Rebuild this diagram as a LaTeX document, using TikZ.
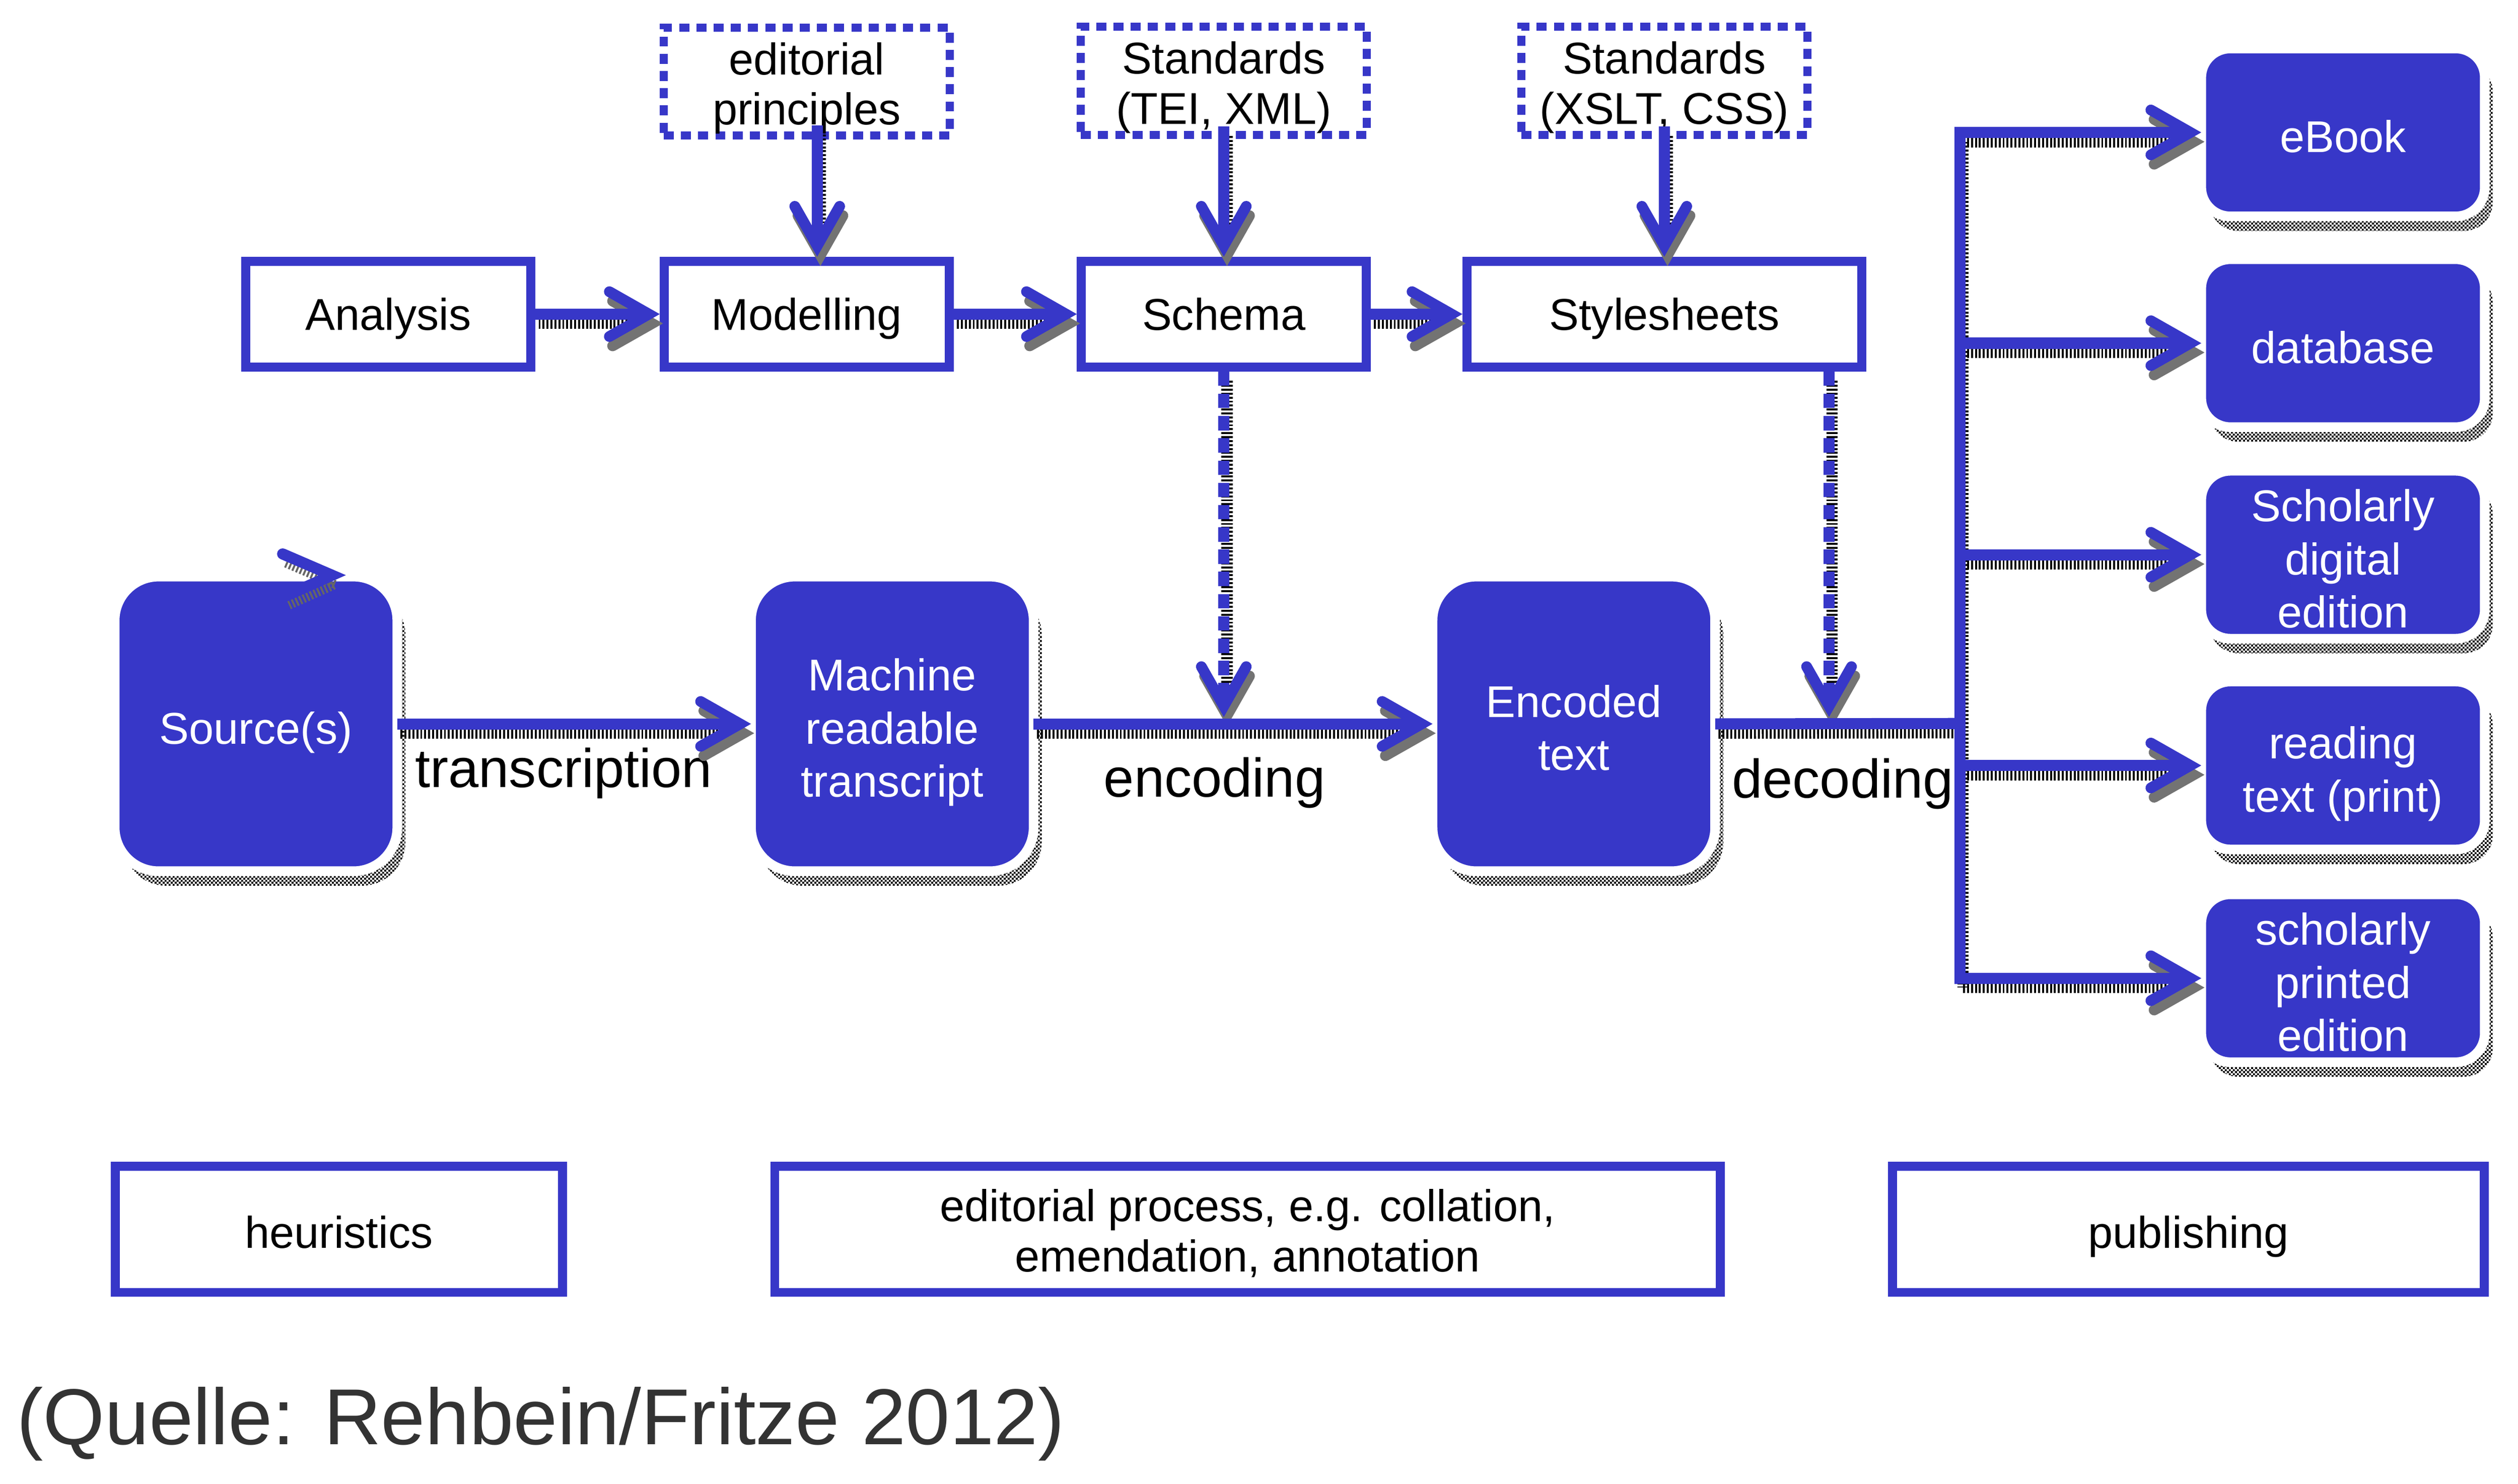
\documentclass[tikz,border=0pt]{standalone}
\usepackage{fontspec}
\setmainfont{Liberation Sans}
\usetikzlibrary{arrows.meta,patterns}
\pgfdeclarelayer{bg}
\pgfsetlayers{bg,main}
\pgfdeclarepatternformonly{checker}{\pgfpointorigin}{\pgfpoint{1.1pt}{1.1pt}}{\pgfpoint{1.1pt}{1.1pt}}{%
  \pgfpathrectangle{\pgfpointorigin}{\pgfpoint{0.55pt}{0.55pt}}%
  \pgfpathrectangle{\pgfpoint{0.55pt}{0.55pt}}{\pgfpoint{0.55pt}{0.55pt}}%
  \pgfusepath{fill}}
\definecolor{myblue}{RGB}{55,55,200}
\newcommand\stB{\rule{0pt}{14.1pt}}
\newcommand\stD{\rule{0pt}{13.1pt}}
\newcommand\stE{\rule{0pt}{12.6pt}}
\begin{document}
\begin{tikzpicture}[x=0.45pt,y=-0.45pt,
  struts/.style={execute at begin node={\rule{0pt}{#1}}, execute at end node={\rule[-3pt]{0pt}{3pt}}},
  txt/.style={font=\fontsize{12.4}{14}\selectfont},
  topbox/.style={txt, struts=11.9pt, draw=myblue, line width=2.5pt, fill=white, minimum width=79.4pt, minimum height=29.5pt, inner sep=0pt},
  dotbox/.style={txt, struts=13.1pt, draw=myblue, line width=2.25pt, dash pattern=on 2.8pt off 2pt, minimum width=79.7pt, minimum height=28.8pt, inner sep=0pt, align=center},
  bluebox/.style={font=\fontsize{12.4}{14.8}\selectfont, struts=14.1pt, fill=myblue, draw=white, line width=2.7pt, text=white, align=center, inner sep=0pt, outer sep=0pt},
  bluebig/.style={bluebox, minimum width=78.75pt, minimum height=82.1pt, rounded corners=12.2pt},
  bluesmall/.style={bluebox, minimum width=79pt, minimum height=46.8pt, rounded corners=8.1pt},
  botbox/.style={txt, struts=13.3pt, draw=myblue, line width=2.5pt, minimum height=35.1pt, inner sep=0pt, align=center},
  lbl/.style={font=\fontsize{15.2}{18}\selectfont, inner sep=0pt},
  tipb/.tip={Straight Barb[length=11pt,width=12.5pt,line width=3pt,line cap=round,line join=miter]},
  arr/.style={draw=myblue, line width=3.1pt, -{tipb}},
  darr/.style={arr, dash pattern=on 4pt off 2.2pt},
  ln/.style={draw=myblue, line width=3.1pt},
  shtr/.style={transform canvas={shift={(0.9pt,-2.6pt)}}},
  sharr/.style={shtr, draw=black, line width=3.1pt, dash pattern=on 0.55pt off 0.55pt, -{Straight Barb[length=11pt,width=12.5pt,line width=3pt,line cap=round,line join=miter,color=black!55]}},
  shln/.style={shtr, draw=black, line width=3.1pt, dash pattern=on 0.55pt off 0.55pt},
  shfill/.style={pattern=checker, pattern color=black}
]
\useasboundingbox (0,0) rectangle (1559.1,918.7);

% top row
\node[topbox] (ana) at (240.5,194.5) {Analysis};
\node[topbox] (mod) at (499.5,194.5) {Modelling};
\node[topbox] (sch) at (757.75,194.5) {Schema};
\node[topbox, minimum width=110pt] (sty) at (1030.5,194.5) {Stylesheets};

% dotted boxes
\node[dotbox] (edp) at (499.5,50.5) {\stD editorial\\principles};
\node[dotbox] (tei) at (757.75,50) {\stD Standards\\(TEI, XML)};
\node[dotbox] (xsl) at (1030.5,50) {\stD Standards\\(XSLT, CSS)};

% blue boxes
\node[bluebig] (src) at (158.5,448.25) {Source(s)};
\node[bluebig] (mrt) at (552.5,448.25) {\stB Machine\\readable\\transcript};
\node[bluebig] (enc) at (974.5,448.25) {\stB Encoded\\text};
\node[bluesmall] (ebk) at (1450.75,82) {eBook};
\node[bluesmall] (dbs) at (1450.75,212.5) {database};
\node[bluesmall] (sde) at (1450.75,343.5) {\stB Scholarly\\digital\\edition};
\node[bluesmall] (rtp) at (1450.75,474) {\stB reading\\text (print)};
\node[bluesmall] (spe) at (1450.75,605.75) {\stB scholarly\\printed\\edition};

% bottom boxes
\node[botbox, minimum width=124.6pt] (heu) at (209.8,761.25) {heuristics};
\node[botbox, minimum width=263.5pt] (edi) at (772.5,761.25) {\stE editorial process, e.g. collation,\\emendation, annotation};
\node[botbox, minimum width=164.9pt] (pub) at (1355,761.25) {publishing};

% labels
\node[lbl, anchor=base] (ltr) at (349,487.5) {transcription};
\node[lbl, anchor=base] (len) at (752,493.3) {encoding};
\node[lbl, anchor=base] (lde) at (1141,494) {decoding};
\node[anchor=base west, font=\fontsize{22.1}{26}\selectfont, text=black!80, inner sep=0pt] (cite) at (10,894.5) {(Quelle: Rehbein/Fritze 2012)};

% shadows of blue boxes
\begin{pgfonlayer}{bg}
\foreach \n/\r in {src/12.2pt,mrt/12.2pt,enc/12.2pt,ebk/8.1pt,dbs/8.1pt,sde/8.1pt,rtp/8.1pt,spe/8.1pt}
  \fill[shfill, rounded corners=\r] ([shift={(5,9)}]\n.north west) rectangle ([shift={(5,9)}]\n.south east);
\end{pgfonlayer}

% coordinates
\coordinate (bus) at (1213.5,448);
\coordinate (encj) at (757.75,444);
\coordinate (decj) at (1132.5,444);
\coordinate (edpo) at (506,77.5);
\coordinate (sa1) at (175,343);
\coordinate (sa2) at (205.6,356.2);
\coordinate (sa3) at (177,369);

% shadows of connectors
\draw[sharr] (ana.east) -- (mod.west);
\draw[sharr] (mod.east) -- (sch.west);
\draw[sharr] (sch.east) -- (sty.west);
\draw[sharr] (edpo) -- (edpo |- mod.north);
\draw[sharr] ([yshift=3.4pt]tei.south) -- (sch.north);
\draw[sharr] ([yshift=3.4pt]xsl.south) -- (sty.north);
\draw[sharr] (src.east) -- (mrt.west);
\draw[sharr] (mrt.east) -- (enc.west);
\draw[sharr] (sch.south) -- (encj);
\draw[sharr] (sty.south -| decj) -- (decj);
\draw[shln] (enc.east) -- (bus);
\draw[shln] (bus |- ebk.west) -- (bus |- spe.west);
\foreach \n in {ebk,dbs,sde,rtp,spe} \draw[sharr] (bus |- \n.west) -- (\n.west);
\draw[shln, draw=black!60, line width=2.4pt] (sa1) -- (sa2) -- (sa3);

% connectors
\draw[arr] (ana.east) -- (mod.west);
\draw[arr] (mod.east) -- (sch.west);
\draw[arr] (sch.east) -- (sty.west);
\draw[arr] (edpo) -- (edpo |- mod.north);
\draw[arr] ([yshift=3.4pt]tei.south) -- (sch.north);
\draw[arr] ([yshift=3.4pt]xsl.south) -- (sty.north);
\draw[arr] (src.east) -- (mrt.west);
\draw[arr] (mrt.east) -- (enc.west);
\draw[darr] (sch.south) -- (encj);
\draw[darr] (sty.south -| decj) -- (decj);
\draw[ln] (enc.east) -- (bus);
\draw[ln, line cap=rect] (bus |- ebk.west) -- (bus |- spe.west);
\foreach \n in {ebk,dbs,sde,rtp,spe} \draw[arr] (bus |- \n.west) -- (\n.west);
\draw[ln, line cap=round, line join=miter] (sa1) -- (sa2) -- (sa3);
\end{tikzpicture}
\end{document}
